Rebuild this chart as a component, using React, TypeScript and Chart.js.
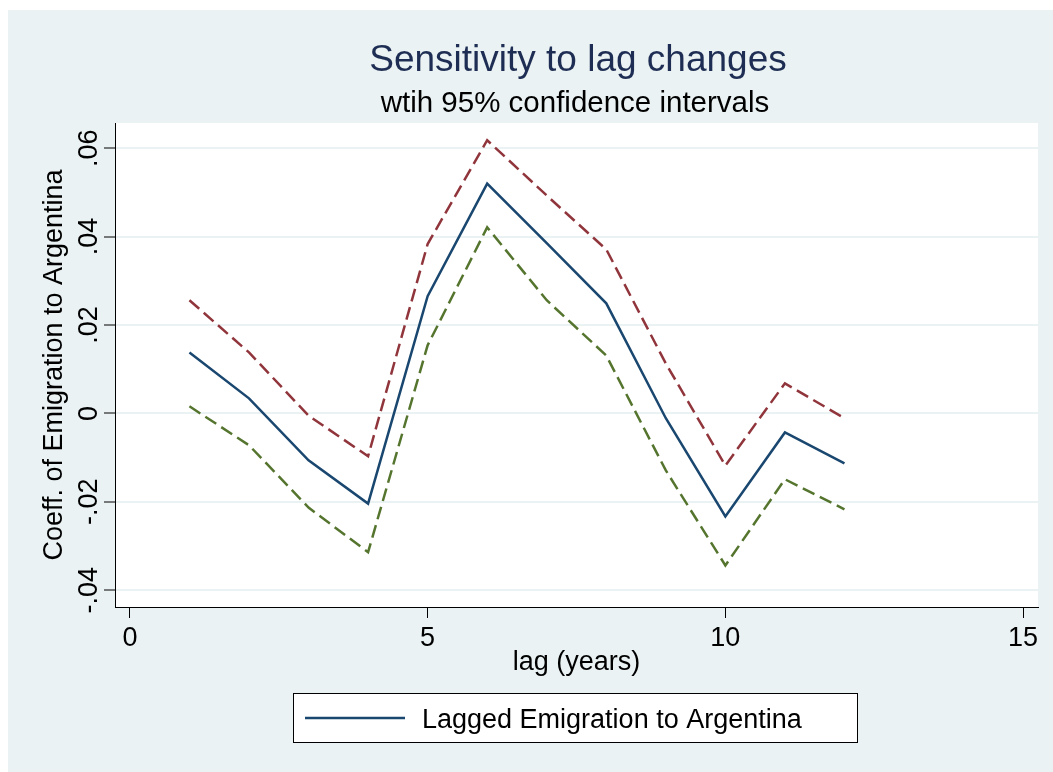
import React, { useEffect, useRef } from "react";
import { Chart, registerables } from "chart.js";

Chart.register(...registerables);

const lags = [1, 2, 3, 4, 5, 6, 7, 8, 9, 10, 11, 12];
const coef = [0.0138, 0.0034, -0.0106, -0.0204, 0.0265, 0.052, 0.0385, 0.0249, -0.0011, -0.0233, -0.0043, -0.0113];
const upperCI = [0.0256, 0.0138, -0.0005, -0.0097, 0.0383, 0.0618, 0.0493, 0.0371, 0.0113, -0.0118, 0.0068, -0.0011];
const lowerCI = [0.0016, -0.0072, -0.0213, -0.0314, 0.0154, 0.0421, 0.0256, 0.0131, -0.0129, -0.0344, -0.0149, -0.0217];

const xTickValues = [0, 5, 10, 15];
const yTickValues = [-0.04, -0.02, 0, 0.02, 0.04, 0.06];
const yTickLabels = ["-.04", "-.02", "0", ".02", ".04", ".06"];

const titleText = "Sensitivity to lag changes";
const subtitleText = "wtih 95% confidence intervals";
const xTitle = "lag (years)";
const yTitle = "Coeff. of Emigration to Argentina";
const legendLabel = "Lagged Emigration to Argentina";

const FONT = "'Liberation Sans', Arial, Helvetica, sans-serif";
const BG = "#EAF2F3";
const NAVY = "#1a476f";
const MAROON = "#90353b";
const GREEN = "#55752f";

const decorPlugin = {
  id: "stataDecor",
  beforeDraw(chart: any) {
    const { ctx, chartArea } = chart;
    ctx.save();
    ctx.fillStyle = "#ffffff";
    ctx.fillRect(0, 0, chart.width, chart.height);
    ctx.fillStyle = BG;
    ctx.fillRect(8, 10, chart.width - 8, chart.height - 10);
    ctx.fillStyle = "#ffffff";
    ctx.fillRect(chartArea.left, chartArea.top, chartArea.right - chartArea.left, chartArea.bottom - chartArea.top);
    ctx.restore();
  },
  afterDraw(chart: any) {
    const { ctx } = chart;
    const yScale = chart.scales.y;
    ctx.save();
    // titles
    ctx.textAlign = "center";
    ctx.textBaseline = "alphabetic";
    ctx.fillStyle = "#1e2d53";
    ctx.font = `37px ${FONT}`;
    ctx.fillText(titleText, 578, 71);
    ctx.fillStyle = "#000000";
    ctx.font = `29.5px ${FONT}`;
    ctx.fillText(subtitleText, 575, 112);

    // rotated y tick labels
    ctx.font = `27px ${FONT}`;
    ctx.fillStyle = "#000000";
    yTickValues.forEach((v, i) => {
      const py = yScale.getPixelForValue(v);
      ctx.save();
      ctx.translate(97, py);
      ctx.rotate(-Math.PI / 2);
      ctx.textAlign = "center";
      ctx.textBaseline = "alphabetic";
      ctx.fillText(yTickLabels[i], 0, 0);
      ctx.restore();
    });

    // legend box
    const bx = 293, by = 693, bw = 564, bh = 49;
    ctx.fillStyle = "#ffffff";
    ctx.fillRect(bx, by, bw, bh);
    ctx.strokeStyle = "#000000";
    ctx.lineWidth = 1;
    ctx.strokeRect(bx + 0.5, by + 0.5, bw, bh);
    ctx.strokeStyle = NAVY;
    ctx.lineWidth = 2.5;
    ctx.beginPath();
    ctx.moveTo(305, 718);
    ctx.lineTo(405, 718);
    ctx.stroke();
    ctx.fillStyle = "#000000";
    ctx.font = `27px ${FONT}`;
    ctx.textAlign = "left";
    ctx.textBaseline = "alphabetic";
    ctx.fillText(legendLabel, 422, 728);
    ctx.restore();
  },
};

export default function App() {
  const canvasRef = useRef<HTMLCanvasElement | null>(null);

  useEffect(() => {
    document.body.style.margin = "0";
    const canvas = canvasRef.current;
    if (!canvas) return;
    const toPts = (ys: number[]) => lags.map((x, i) => ({ x, y: ys[i] }));
    const chart = new Chart(canvas, {
      type: "line",
      data: {
        datasets: [
          {
            label: "Upper CI",
            data: toPts(upperCI),
            borderColor: MAROON,
            borderWidth: 2.5,
            borderDash: [13, 6],
            pointRadius: 0,
            fill: false,
            tension: 0,
          },
          {
            label: "Lower CI",
            data: toPts(lowerCI),
            borderColor: GREEN,
            borderWidth: 2.5,
            borderDash: [13, 6],
            pointRadius: 0,
            fill: false,
            tension: 0,
          },
          {
            label: legendLabel,
            data: toPts(coef),
            borderColor: NAVY,
            borderWidth: 2.5,
            pointRadius: 0,
            fill: false,
            tension: 0,
          },
        ],
      },
      options: {
        animation: false,
        responsive: false,
        maintainAspectRatio: false,
        layout: { padding: { top: 123, left: 0, right: 15, bottom: 0 } },
        plugins: {
          legend: { display: false },
          title: { display: false },
          tooltip: { enabled: false },
        },
        scales: {
          x: {
            type: "linear",
            min: -0.25,
            max: 15.25,
            afterBuildTicks: (scale: any) => {
              scale.ticks = xTickValues.map((v) => ({ value: v }));
            },
            afterFit: (scale: any) => {
              scale.height = 165;
            },
            grid: {
              drawOnChartArea: false,
              drawTicks: true,
              tickLength: 11,
              tickColor: "#000000",
              tickWidth: 1,
            },
            border: { display: true, color: "#000000", width: 1 },
            ticks: {
              color: "#000000",
              font: { family: FONT, size: 27 },
              padding: 4,
              maxRotation: 0,
              autoSkip: false,
              callback: (v: any) => String(v),
            },
            title: {
              display: true,
              text: xTitle,
              color: "#000000",
              font: { family: FONT, size: 27 },
              padding: { top: 0, bottom: 93 },
            },
          },
          y: {
            type: "linear",
            min: -0.0438,
            max: 0.0657,
            afterBuildTicks: (scale: any) => {
              scale.ticks = yTickValues.map((v) => ({ value: v }));
            },
            afterFit: (scale: any) => {
              scale.width = 115;
            },
            grid: {
              drawOnChartArea: true,
              color: BG,
              lineWidth: 2,
              drawTicks: true,
              tickLength: 11,
              tickColor: "#000000",
              tickWidth: 1,
            },
            border: { display: true, color: "#000000", width: 1 },
            ticks: { display: false },
            title: {
              display: true,
              text: yTitle,
              color: "#000000",
              font: { family: FONT, size: 27 },
              padding: { top: 38, bottom: 0 },
            },
          },
        },
      },
      plugins: [decorPlugin],
    });
    return () => chart.destroy();
  }, []);

  return (
    <div style={{ width: 1053, height: 772 }}>
      <canvas ref={canvasRef} width={1053} height={772} style={{ display: "block", width: 1053, height: 772 }} />
    </div>
  );
}
